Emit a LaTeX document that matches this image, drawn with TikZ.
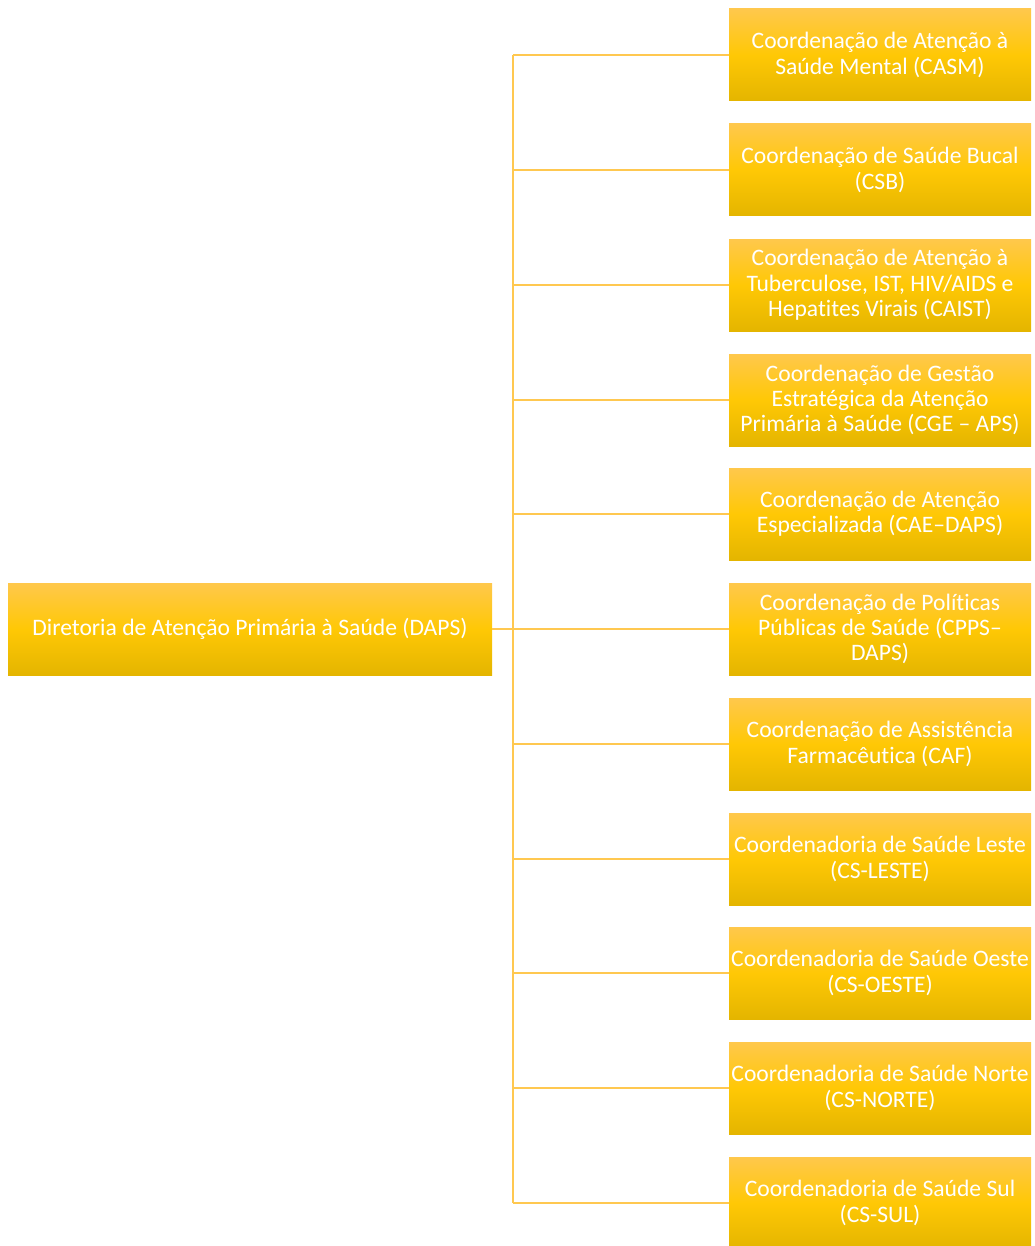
\documentclass[tikz,border=0pt]{standalone}
\usepackage{fontspec}
\setmainfont{Carlito}[Ligatures=CommonOff]
\definecolor{boxtop}{HTML}{FFC84C}
\definecolor{boxmid}{HTML}{FFC805}
\definecolor{boxbot}{HTML}{E4B500}
\definecolor{linkc}{HTML}{FFC850}
\tikzset{
  orgbox/.style={rectangle, minimum height=46pt, inner sep=0pt,
    top color=boxtop, bottom color=boxbot, middle color=boxmid,
    text=white, align=center, font=\fontsize{11.8}{12.7}\selectfont},
  childbox/.style={orgbox, minimum width=151pt},
  link/.style={draw=linkc, line width=1pt}
}
\begin{document}
\begin{tikzpicture}[x=0.5pt,y=-0.5pt]
\useasboundingbox (0,0) rectangle (1034,1246);
\node[orgbox, minimum width=242pt] (daps) at (250,629) {Diretoria de Atenção Primária à Saúde (DAPS)};
\node[childbox] (c1) at (880,55) {Coordenação de Atenção à\\Saúde Mental (CASM)};
\node[childbox] (c2) at (880,170) {Coordenação de Saúde Bucal\\(CSB)};
\node[childbox] (c3) at (880,285) {Coordenação de Atenção à\\Tuberculose, IST, HIV/AIDS e\\Hepatites Virais (CAIST)};
\node[childbox] (c4) at (880,400) {Coordenação de Gestão\\Estratégica da Atenção\\Primária à Saúde (CGE – APS)};
\node[childbox] (c5) at (880,514) {Coordenação de Atenção\\Especializada (CAE–DAPS)};
\node[childbox] (c6) at (880,629) {Coordenação de Políticas\\Públicas de Saúde (CPPS–\\DAPS)};
\node[childbox] (c7) at (880,744) {Coordenação de Assistência\\Farmacêutica (CAF)};
\node[childbox] (c8) at (880,859) {Coordenadoria de Saúde Leste\\(CS-LESTE)};
\node[childbox] (c9) at (880,973) {Coordenadoria de Saúde Oeste\\(CS-OESTE)};
\node[childbox] (c10) at (880,1088) {Coordenadoria de Saúde Norte\\(CS-NORTE)};
\node[childbox] (c11) at (880,1203) {Coordenadoria de Saúde Sul\\(CS-SUL)};
\coordinate (bus) at (513,629);
\draw[link] (daps.east) -- (bus);
\draw[link] (bus |- c1.west) -- (bus |- c11.west);
\foreach \c in {c1,c2,c3,c4,c5,c6,c7,c8,c9,c10,c11}
  \draw[link] (bus |- \c.west) -- (\c.west);
\end{tikzpicture}
\end{document}
